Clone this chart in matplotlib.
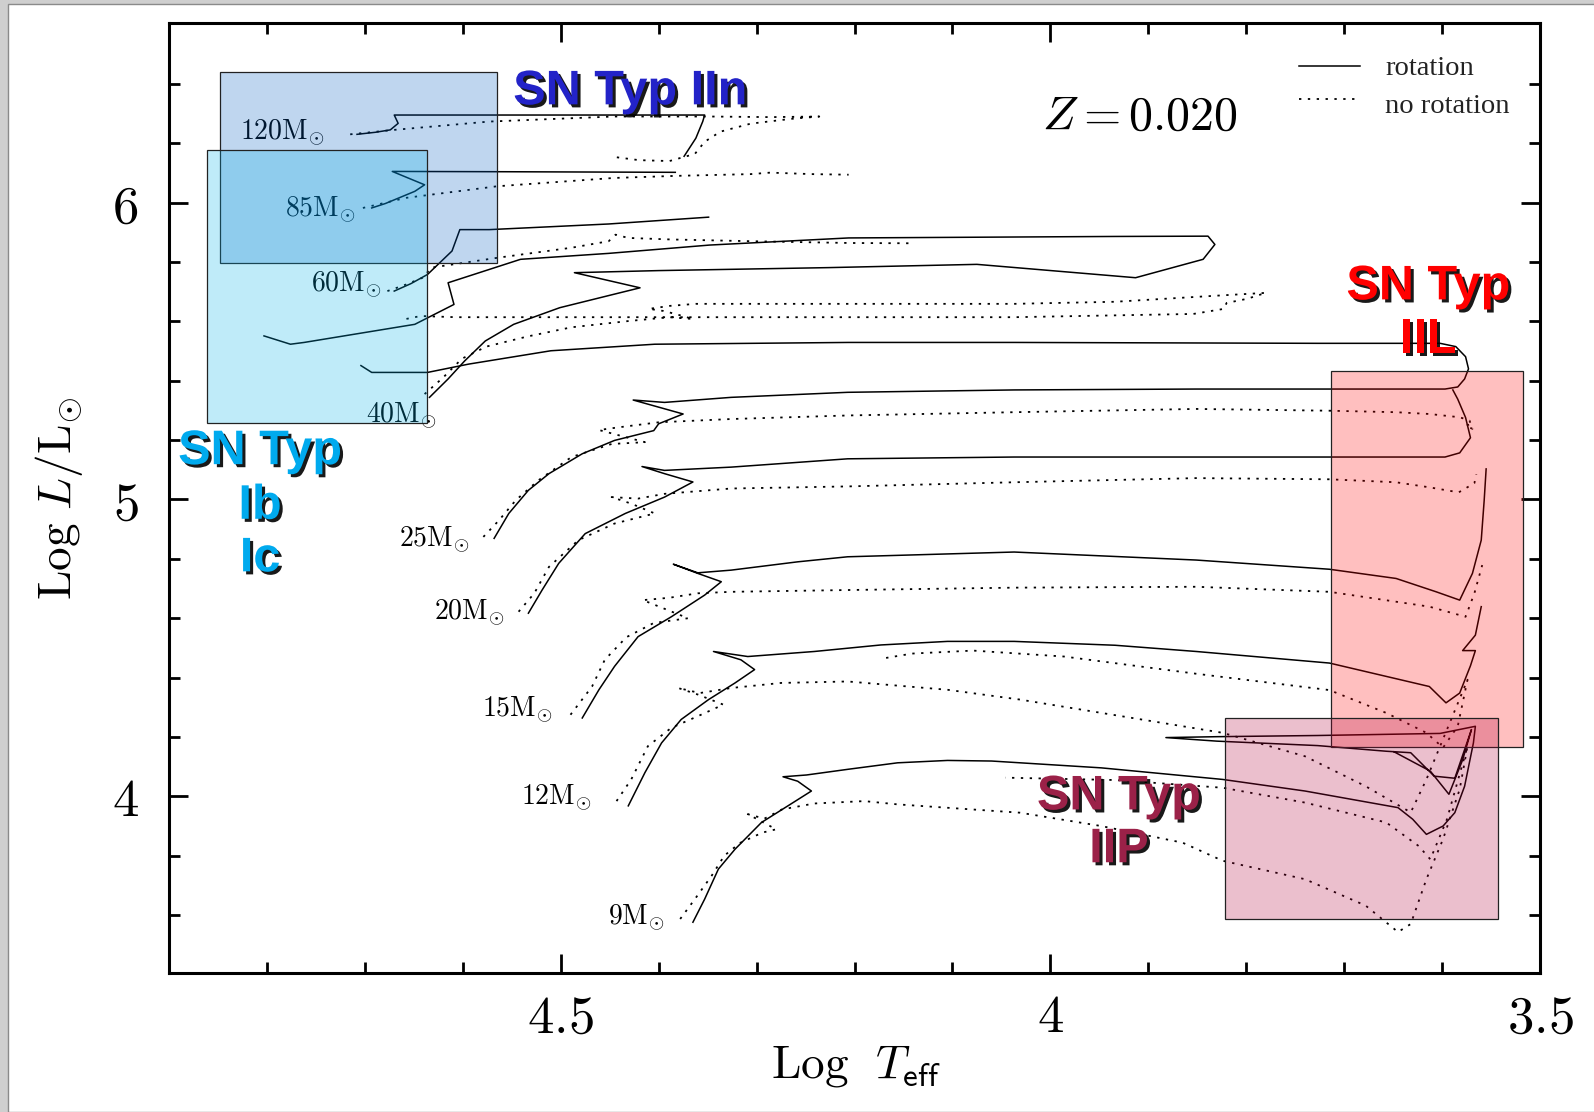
import matplotlib
matplotlib.use('Agg')
import matplotlib.pyplot as plt
from matplotlib.patches import Rectangle
import matplotlib.patheffects as pe

plt.rcParams['mathtext.fontset'] = 'cm'
plt.rcParams['font.family'] = ['DejaVu Serif']

# ---------------- data (log Teff, log L/Lsun) ----------------
masses = ['120', '85', '60', '40', '25', '20', '15', '12', '9']

t120_rot = [4.708, 4.689, 4.674, 4.666, 4.670, 4.555, 4.353, 4.355, 4.362, 4.374]
l120_rot = [6.230, 6.237, 6.245, 6.267, 6.295, 6.295, 6.295, 6.273, 6.217, 6.156]
t120_norot = [4.715, 4.670, 4.573, 4.446, 4.348, 4.286, 4.236, 4.265, 4.306, 4.337, 4.353, 4.363, 4.389, 4.420, 4.446]
l120_norot = [6.230, 6.245, 6.273, 6.290, 6.290, 6.288, 6.290, 6.282, 6.266, 6.239, 6.205, 6.164, 6.140, 6.143, 6.154]

t85_rot = [4.693, 4.679, 4.649, 4.639, 4.672, 4.555, 4.383]
l85_rot = [5.982, 5.997, 6.038, 6.060, 6.105, 6.104, 6.102]
t85_norot = [4.702, 4.658, 4.565, 4.446, 4.383, 4.306, 4.286, 4.244, 4.206]
l85_norot = [5.982, 6.016, 6.055, 6.083, 6.090, 6.096, 6.101, 6.096, 6.094]

t60_rot = [4.670, 4.653, 4.636, 4.611, 4.603, 4.573, 4.451, 4.349]
l60_rot = [5.702, 5.727, 5.758, 5.837, 5.909, 5.909, 5.928, 5.951]
t60_norot = [4.677, 4.658, 4.641, 4.632, 4.565, 4.489, 4.451, 4.444, 4.431, 4.389, 4.306, 4.206, 4.141]
l60_norot = [5.702, 5.724, 5.747, 5.781, 5.814, 5.848, 5.870, 5.892, 5.881, 5.876, 5.870, 5.864, 5.863]

t40_rot = [4.634, 4.615, 4.598, 4.577, 4.548, 4.501, 4.446, 4.419, 4.486, 4.400,
           4.227, 4.075, 3.913, 3.844, 3.832, 3.839, 3.934, 4.206, 4.348, 4.451,
           4.541, 4.615, 4.609, 4.649, 4.762, 4.776, 4.803]
l40_rot = [5.344, 5.406, 5.467, 5.534, 5.590, 5.646, 5.691, 5.713, 5.764, 5.771,
           5.781, 5.792, 5.747, 5.809, 5.859, 5.887, 5.886, 5.881, 5.857, 5.829,
           5.809, 5.730, 5.657, 5.590, 5.529, 5.523, 5.551]
t40_norot = [4.639, 4.620, 4.601, 4.576, 4.534, 4.489, 4.431, 4.389, 4.365, 4.383,
             4.395, 4.410, 4.389, 4.362, 4.206, 4.037, 3.934, 3.833, 3.780, 3.799,
             3.820, 3.823, 3.854, 4.037, 4.206, 4.451, 4.607, 4.643, 4.658]
l40_norot = [5.355, 5.411, 5.474, 5.515, 5.549, 5.580, 5.601, 5.614, 5.608, 5.625,
             5.635, 5.642, 5.652, 5.659, 5.659, 5.659, 5.666, 5.686, 5.696, 5.676,
             5.662, 5.642, 5.625, 5.614, 5.614, 5.614, 5.614, 5.618, 5.608]

t25_rot = [4.568, 4.553, 4.533, 4.512, 4.478, 4.445, 4.405, 4.400, 4.375, 4.426,
           4.394, 4.326, 4.207, 4.037, 3.851, 3.713, 3.597, 3.584, 3.577, 3.573,
           3.576, 3.586, 3.602, 3.727, 4.037, 4.206, 4.404, 4.510, 4.594, 4.636,
           4.693, 4.704]
l25_rot = [4.869, 4.953, 5.031, 5.087, 5.154, 5.199, 5.232, 5.255, 5.288, 5.335,
           5.327, 5.344, 5.361, 5.369, 5.372, 5.372, 5.372, 5.379, 5.406, 5.440,
           5.481, 5.515, 5.526, 5.526, 5.529, 5.529, 5.523, 5.501, 5.456, 5.428,
           5.428, 5.451]
t25_norot = [4.579, 4.563, 4.546, 4.523, 4.489, 4.448, 4.414, 4.461, 4.441, 4.400,
             4.326, 4.207, 4.037, 3.851, 3.715, 3.647, 3.613, 3.582, 3.572, 3.569,
             3.576, 3.569]
l25_norot = [4.874, 4.930, 4.997, 5.064, 5.143, 5.187, 5.193, 5.234, 5.243, 5.260,
             5.271, 5.283, 5.294, 5.305, 5.299, 5.294, 5.288, 5.277, 5.266, 5.238,
             5.249, 5.255]

t20_rot = [4.533, 4.519, 4.502, 4.475, 4.434, 4.394, 4.365, 4.394, 4.417, 4.394,
           4.326, 4.207, 4.037, 3.851, 3.647, 3.597, 3.582, 3.571, 3.576, 3.584, 3.589]
l20_rot = [4.617, 4.695, 4.785, 4.885, 4.953, 5.008, 5.059, 5.087, 5.111, 5.098,
           5.109, 5.137, 5.143, 5.143, 5.143, 5.143, 5.157, 5.208, 5.276, 5.338, 5.369]
t20_norot = [4.543, 4.527, 4.512, 4.482, 4.445, 4.404, 4.428, 4.448, 4.421, 4.394,
             4.326, 4.207, 4.037, 3.851, 3.715, 3.647, 3.613, 3.583, 3.567, 3.565]
l20_norot = [4.622, 4.684, 4.773, 4.863, 4.919, 4.953, 4.986, 5.008, 5.003, 5.019,
             5.037, 5.044, 5.058, 5.072, 5.068, 5.058, 5.041, 5.024, 5.055, 5.085]

t15_rot = [4.478, 4.461, 4.445, 4.421, 4.387, 4.353, 4.336, 4.360, 4.385, 4.360,
           4.326, 4.258, 4.207, 4.037, 3.851, 3.715, 3.647, 3.606, 3.582, 3.569,
           3.560, 3.557, 3.555]
l15_rot = [4.264, 4.359, 4.438, 4.538, 4.605, 4.678, 4.723, 4.751, 4.782, 4.753,
           4.762, 4.790, 4.807, 4.823, 4.796, 4.765, 4.734, 4.689, 4.661, 4.751,
           4.863, 4.997, 5.103]
t15_norot = [4.490, 4.468, 4.455, 4.433, 4.405, 4.370, 4.416, 4.389, 4.360, 4.326,
             4.207, 4.037, 3.851, 3.715, 3.613, 3.576, 3.567, 3.559]
l15_norot = [4.275, 4.370, 4.460, 4.536, 4.584, 4.600, 4.661, 4.669, 4.684, 4.689,
             4.695, 4.703, 4.706, 4.689, 4.639, 4.605, 4.684, 4.779]

t12_rot = [4.431, 4.414, 4.397, 4.377, 4.349, 4.322, 4.302, 4.316, 4.344, 4.309,
           4.241, 4.173, 4.105, 4.037, 3.934, 3.851, 3.715, 3.613, 3.596, 3.582,
           3.571, 3.566, 3.579, 3.573, 3.566, 3.560]
l12_rot = [3.968, 4.080, 4.180, 4.259, 4.326, 4.382, 4.427, 4.460, 4.488, 4.471,
           4.488, 4.510, 4.522, 4.522, 4.509, 4.488, 4.449, 4.370, 4.315, 4.348,
           4.440, 4.491, 4.491, 4.515, 4.543, 4.639]
t12_norot = [4.443, 4.428, 4.411, 4.387, 4.360, 4.334, 4.360, 4.380, 4.358, 4.326,
             4.275, 4.207, 4.105, 4.031, 3.907, 3.824, 3.740, 3.678, 3.632, 3.616,
             3.595, 3.574, 3.584, 3.599, 3.616, 3.657, 3.715, 3.851, 3.986, 4.079,
             4.141, 4.172]
l12_norot = [3.984, 4.057, 4.169, 4.231, 4.270, 4.309, 4.343, 4.365, 4.348, 4.365,
             4.382, 4.387, 4.359, 4.326, 4.259, 4.214, 4.135, 4.034, 3.946, 4.057,
             4.225, 4.393, 4.236, 4.164, 4.214, 4.281, 4.358, 4.413, 4.471, 4.491,
             4.481, 4.464]

t9_rot = [4.365, 4.353, 4.339, 4.322, 4.295, 4.268, 4.244, 4.258, 4.273, 4.249,
          4.207, 4.156, 4.105, 4.060, 3.948, 3.824, 3.740, 3.645, 3.630, 3.616,
          3.599, 3.587, 3.577, 3.568, 3.566, 3.602, 3.727, 3.830, 3.882, 3.830,
          3.727, 3.657, 3.632, 3.608, 3.587, 3.570, 3.579, 3.593, 3.612, 3.649]
l9_rot = [3.576, 3.654, 3.755, 3.822, 3.912, 3.968, 4.018, 4.051, 4.066, 4.072,
          4.091, 4.113, 4.121, 4.119, 4.096, 4.057, 4.018, 3.962, 3.923, 3.872,
          3.900, 3.945, 4.034, 4.180, 4.236, 4.212, 4.205, 4.201, 4.198, 4.186,
          4.171, 4.152, 4.147, 4.068, 4.061, 4.225, 4.123, 4.007, 4.085, 4.150]
t9_norot = [4.378, 4.363, 4.346, 4.333, 4.317, 4.294, 4.280, 4.309, 4.292, 4.274,
            4.241, 4.190, 4.156, 4.031, 3.948, 3.865, 3.824, 3.740, 3.678, 3.645,
            3.632, 3.616, 3.599, 3.582, 3.574, 3.595, 3.612, 3.624, 3.657, 3.740,
            3.824, 3.934, 4.046]
l9_norot = [3.587, 3.654, 3.732, 3.800, 3.843, 3.878, 3.889, 3.940, 3.925, 3.956,
            3.976, 3.984, 3.973, 3.945, 3.900, 3.844, 3.783, 3.721, 3.632, 3.543,
            3.570, 3.721, 3.856, 4.024, 4.169, 3.923, 3.788, 3.833, 3.912, 3.979,
            4.029, 4.055, 4.063]

# mass label anchor points (right end, baseline)
label_t = [4.741, 4.709, 4.683, 4.627, 4.593, 4.557, 4.508, 4.468, 4.394]
label_l = [6.212, 5.954, 5.702, 5.260, 4.843, 4.597, 4.270, 3.973, 3.570]

# supernova regions: (Teff left, Teff right), (L bottom, L top)
sn_names = ['IIn', 'Ib/Ic', 'IIL', 'IIP']
sn_t = [(4.848, 4.565), (4.861, 4.637), (3.713, 3.517), (3.822, 3.543)]
sn_l = [(5.795, 6.440), (5.259, 6.177), (4.167, 5.433), (3.587, 4.263)]

tracks_rot = {'120': (t120_rot, l120_rot), '85': (t85_rot, l85_rot), '60': (t60_rot, l60_rot),
              '40': (t40_rot, l40_rot), '25': (t25_rot, l25_rot), '20': (t20_rot, l20_rot),
              '15': (t15_rot, l15_rot), '12': (t12_rot, l12_rot), '9': (t9_rot, l9_rot)}
tracks_norot = {'120': (t120_norot, l120_norot), '85': (t85_norot, l85_norot), '60': (t60_norot, l60_norot),
                '40': (t40_norot, l40_norot), '25': (t25_norot, l25_norot), '20': (t20_norot, l20_norot),
                '15': (t15_norot, l15_norot), '12': (t12_norot, l12_norot), '9': (t9_norot, l9_norot)}

# ---------------- figure ----------------
W, H = 1594, 1112
fig = plt.figure(figsize=(W / 100, H / 100), dpi=100, facecolor='#cfcfcf')
bg = Rectangle((8 / W, 0), 1.0, (H - 4) / H, transform=fig.transFigure,
               facecolor='white', edgecolor='#8a8a8a', lw=1.0, zorder=-10)
fig.patches.append(bg)
ax = fig.add_axes([169 / W, 1 - 973 / H, (1540 - 169) / W, (973 - 23) / H])
ax.set_zorder(5)
ax.set_facecolor('white')

dotted = (0, (1.3, 3.6))
for m in masses:
    t, l = tracks_rot[m]
    ax.plot(t, l, color='k', lw=1.1, zorder=2, solid_joinstyle='round')
    t, l = tracks_norot[m]
    ax.plot(t, l, color='k', lw=1.3, ls=dotted, zorder=2)

for m, tx, ly in zip(masses, label_t, label_l):
    ax.text(tx, ly, r'$%s\mathrm{M}_{\odot}$' % m, fontsize=20, ha='right', va='baseline', zorder=2.5)

box_colors = [(0.0, 0.37, 0.76, 0.25), (0.0, 0.69, 0.92, 0.25), (1.0, 0.0, 0.0, 0.25), (0.69, 0.0, 0.22, 0.25)]
for (t0, t1), (l0, l1), c in zip(sn_t, sn_l, box_colors):
    ax.add_patch(Rectangle((t0, l0), t1 - t0, l1 - l0, facecolor=c, edgecolor='#222222', lw=0.9, zorder=3))

shadow = [pe.withSimplePatchShadow(offset=(2.2, -2.2), shadow_rgbFace='black', alpha=0.9)]
sn_font = dict(family=['Liberation Sans', 'DejaVu Sans'], weight='bold', fontsize=35,
               ha='center', va='baseline', zorder=6, path_effects=shadow)
ax.text(4.429, 6.331, 'SN Typ IIn', color='#2323c8', **sn_font)
ax.text(4.807, 5.119, 'SN Typ', color='#00aaee', **sn_font)
ax.text(4.807, 4.935, 'Ib', color='#00aaee', **sn_font)
ax.text(4.807, 4.758, 'Ic', color='#00aaee', **sn_font)
ax.text(3.614, 5.674, 'SN Typ', color='#ff0000', **sn_font)
ax.text(3.614, 5.495, 'IIL', color='#ff0000', **sn_font)
ax.text(3.930, 3.956, 'SN Typ', color='#9b2148', **sn_font)
ax.text(3.930, 3.778, 'IIP', color='#9b2148', **sn_font)

ax.text(3.908, 6.244, r'$Z=0.020$', fontsize=34.5, ha='center', va='baseline', zorder=6)

# legend
ax.plot([0.824, 0.869], [0.955, 0.955], transform=ax.transAxes, color='k', lw=1.1, zorder=6)
ax.plot([0.824, 0.869], [0.920, 0.920], transform=ax.transAxes, color='k', lw=1.3, ls=dotted, zorder=6)
leg_font = dict(family=['Liberation Serif', 'DejaVu Serif'], fontsize=20.5, transform=ax.transAxes,
                ha='left', va='baseline', color='#222222', zorder=6)
ax.text(0.887, 0.945, 'rotation', **leg_font)
ax.text(0.887, 0.905, 'no rotation', **leg_font)

# axes
ax.set_xlim(4.9, 3.5)
ax.set_ylim(3.405, 6.605)
ax.set_xticks([4.5, 4.0, 3.5], [r'$4.5$', r'$4$', r'$3.5$'])
ax.set_xticks([4.8, 4.7, 4.6, 4.4, 4.3, 4.2, 4.1, 3.9, 3.8, 3.7, 3.6], minor=True)
ax.set_yticks([4, 5, 6], [r'$4$', r'$5$', r'$6$'])
ax.set_yticks([3.6, 3.8, 4.2, 4.4, 4.6, 4.8, 5.2, 5.4, 5.6, 5.8, 6.2, 6.4], minor=True)
ax.tick_params(which='both', direction='in', top=True, right=True, width=2.0)
ax.tick_params(which='major', length=14, labelsize=38)
ax.tick_params(which='minor', length=8)
ax.tick_params(axis='x', which='major', pad=14)
ax.tick_params(axis='y', which='major', pad=22)
for s in ax.spines.values():
    s.set_linewidth(2.2)

ax.text(-0.08, 0.5, r'$\mathrm{Log}\ L/\mathrm{L}_{\odot}$', fontsize=34, rotation=90,
        ha='center', va='center', transform=ax.transAxes)
ax.text(0.501, -0.098, r'$\mathrm{Log}\ \ T_{\mathsf{eff}}$', fontsize=34,
        ha='center', va='center', transform=ax.transAxes)

fig.savefig('out.png', dpi=100, facecolor=fig.get_facecolor())
